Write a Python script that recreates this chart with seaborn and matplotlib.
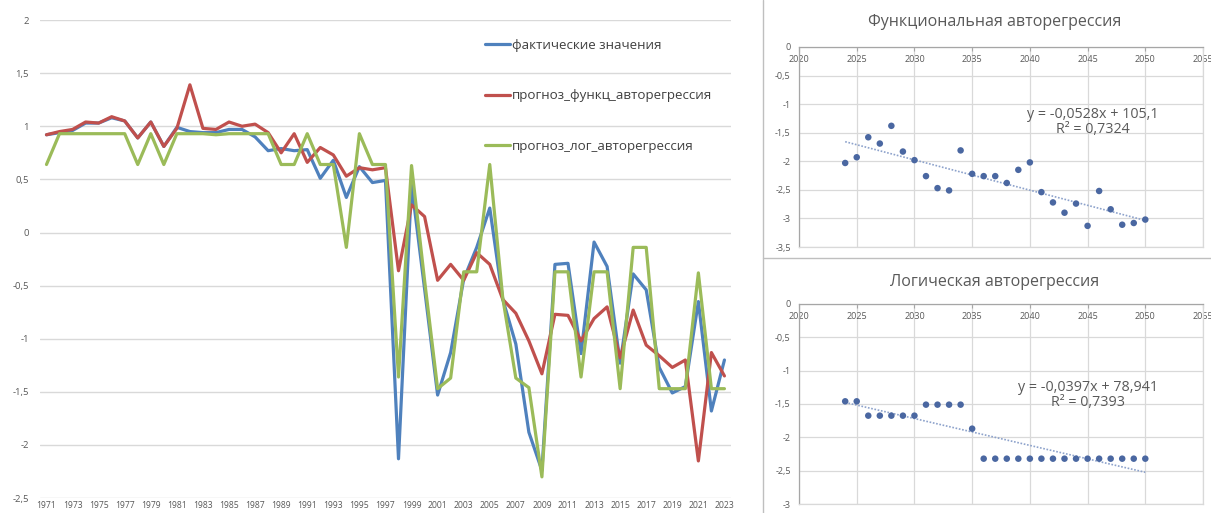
import numpy as np
import pandas as pd
import seaborn as sns
import matplotlib.pyplot as plt
from matplotlib.ticker import FuncFormatter, MultipleLocator
from matplotlib.lines import Line2D

# ---- data ----
years = list(range(1971, 2024))
fact = [0.92, 0.94, 0.96, 1.03, 1.03, 1.08, 1.05, 0.89, 1.04, 0.81,
        0.99, 0.95, 0.94, 0.94, 0.97, 0.97, 0.90, 0.77, 0.79, 0.77,
        0.78, 0.51, 0.68, 0.33, 0.62, 0.47, 0.49, -2.13, 0.45, -0.53,
        -1.53, -1.13, -0.44, -0.14, 0.23, -0.63, -1.05, -1.88, -2.24, -0.30,
        -0.29, -1.14, -0.09, -0.32, -1.23, -0.39, -0.54, -1.27, -1.51, -1.45,
        -0.65, -1.68, -1.20]
func_ar = [0.92, 0.95, 0.97, 1.04, 1.03, 1.09, 1.05, 0.89, 1.04, 0.81,
           0.98, 1.39, 0.98, 0.97, 1.04, 1.00, 1.02, 0.94, 0.75, 0.93,
           0.66, 0.80, 0.73, 0.53, 0.61, 0.59, 0.61, -0.36, 0.26, 0.15,
           -0.45, -0.30, -0.45, -0.19, -0.30, -0.63, -0.76, -1.02, -1.33, -0.77,
           -0.78, -1.02, -0.81, -0.70, -1.18, -0.73, -1.06, -1.16, -1.27, -1.20,
           -2.15, -1.13, -1.35]
log_ar = [0.64, 0.93, 0.93, 0.93, 0.93, 0.93, 0.93, 0.64, 0.93, 0.64,
          0.93, 0.93, 0.93, 0.92, 0.93, 0.93, 0.93, 0.93, 0.64, 0.64,
          0.93, 0.64, 0.64, -0.14, 0.93, 0.64, 0.64, -1.36, 0.63, -0.45,
          -1.47, -1.37, -0.37, -0.37, 0.64, -0.62, -1.37, -1.46, -2.30, -0.37,
          -0.37, -1.36, -0.37, -0.37, -1.47, -0.14, -0.14, -1.47, -1.47, -1.47,
          -0.38, -1.47, -1.47]
series_names = ['фактические значения', 'прогноз_функц_авторегрессия', 'прогноз_лог_авторегрессия']
series_colors = ['#4F81BD', '#C0504D', '#9BBB59']

fc_years = list(range(2024, 2051))
fc_func = [-2.03, -1.93, -1.58, -1.69, -1.38, -1.83, -1.98, -2.26, -2.47, -2.51,
           -1.81, -2.22, -2.26, -2.26, -2.38, -2.15, -2.02, -2.54, -2.72, -2.90,
           -2.74, -3.13, -2.52, -2.84, -3.11, -3.08, -3.02]
fc_log = [-1.46, -1.46, -1.675, -1.675, -1.675, -1.675, -1.675, -1.51, -1.51, -1.51,
          -1.51, -1.87, -2.32, -2.32, -2.32, -2.32, -2.32, -2.32, -2.32, -2.32,
          -2.32, -2.32, -2.32, -2.32, -2.32, -2.32, -2.32]

sns.set_style('white')
plt.rcParams['font.family'] = ['Open Sans', 'DejaVu Sans']

grid_c = '#d9d9d9'
text_c = '#595959'
comma = FuncFormatter(lambda v, p: f'{v:g}'.replace('.', ','))

fig = plt.figure(figsize=(12.11, 5.13), dpi=100)

# ---- left: line chart ----
ax = fig.add_axes([0.033, 0.029, 0.5706, 0.932])
df = pd.DataFrame({'year': years * 3,
                   'value': fact + func_ar + log_ar,
                   'series': [s for s in series_names for _ in years]})
sns.lineplot(data=df, x='year', y='value', hue='series', hue_order=series_names,
             palette=series_colors, linewidth=2.3, ax=ax)
ax.set_xlim(1970.5, 2023.5)
ax.set_ylim(-2.5, 2)
ax.yaxis.set_major_locator(MultipleLocator(0.5))
ax.yaxis.set_major_formatter(comma)
ax.set_xticks(range(1971, 2024, 2))
ax.grid(axis='y', color=grid_c, linewidth=1)
for s in ax.spines.values():
    s.set_visible(False)
ax.tick_params(axis='y', length=0, pad=8, labelsize=6.8, labelcolor=text_c)
ax.tick_params(axis='x', length=0, pad=2, labelsize=6.2, labelcolor=text_c)
ax.set_xlabel('')
ax.set_ylabel('')
handles = [Line2D([], [], color=c, linewidth=2.3) for c in series_colors]
ax.legend(handles, series_names, loc='upper left', bbox_to_anchor=(0.395, 0.937),
          bbox_transform=fig.transFigure, frameon=False, fontsize=9.6,
          handlelength=1.9, handletextpad=0.1, labelspacing=2.8, borderpad=0,
          labelcolor='#404040')

# ---- right: two scatter charts with trendlines ----
def scatter_panel(rect, xs, ys, ymin, title, title_y, eq, r2, eq_x, eq_y):
    a = fig.add_axes(rect)
    sns.scatterplot(x=xs, y=ys, color='#4A67A1', s=22, edgecolor='none', ax=a, zorder=3)
    sns.regplot(x=xs, y=ys, scatter=False, ci=None, ax=a,
                line_kws={'color': '#8DA2CB', 'linestyle': (0, (1, 1)), 'linewidth': 1.2})
    a.set_xlim(2020, 2055)
    a.set_ylim(ymin, 0)
    a.xaxis.set_major_locator(MultipleLocator(5))
    a.yaxis.set_major_locator(MultipleLocator(0.5))
    a.yaxis.set_major_formatter(comma)
    a.grid(True, color=grid_c, linewidth=0.9)
    for k, s in a.spines.items():
        s.set_color('#a6a6a6' if k in ('top', 'left') else grid_c)
        s.set_linewidth(0.9)
    a.tick_params(axis='x', top=True, labeltop=True, bottom=False, labelbottom=False,
                  direction='in', length=3, color='#a6a6a6', pad=-12,
                  labelsize=6.5, labelcolor=text_c)
    a.tick_params(axis='y', length=0, pad=6, labelsize=6.5, labelcolor=text_c)
    a.set_xlabel('')
    a.set_ylabel('')
    fig.text(0.821, title_y, title, ha='center', va='center', fontsize=11.5, color=text_c)
    a.text(eq_x, eq_y, eq, transform=a.transAxes, ha='center', va='center',
           fontsize=10.3, color=text_c)
    a.text(eq_x, eq_y - 0.075, r2, transform=a.transAxes, ha='center', va='center',
           fontsize=10.3, color=text_c)
    return a

scatter_panel([0.6598, 0.5185, 0.3336, 0.39], fc_years, fc_func, -3.5,
              'Функциональная авторегрессия', 0.958,
              'y = -0,0528x + 105,1', 'R² = 0,7324', 0.728, 0.66)
scatter_panel([0.6598, 0.0175, 0.3336, 0.39], fc_years, fc_log, -3,
              'Логическая авторегрессия', 0.45,
              'y = -0,0397x + 78,941', 'R² = 0,7393', 0.716, 0.58)

# panel borders on the right
fig.add_artist(Line2D([0.630, 0.630], [0, 1], transform=fig.transFigure, color='#bfbfbf', linewidth=1))
fig.add_artist(Line2D([0.630, 1], [0.497, 0.497], transform=fig.transFigure, color='#bfbfbf', linewidth=1))

fig.savefig('out.png', dpi=100)
